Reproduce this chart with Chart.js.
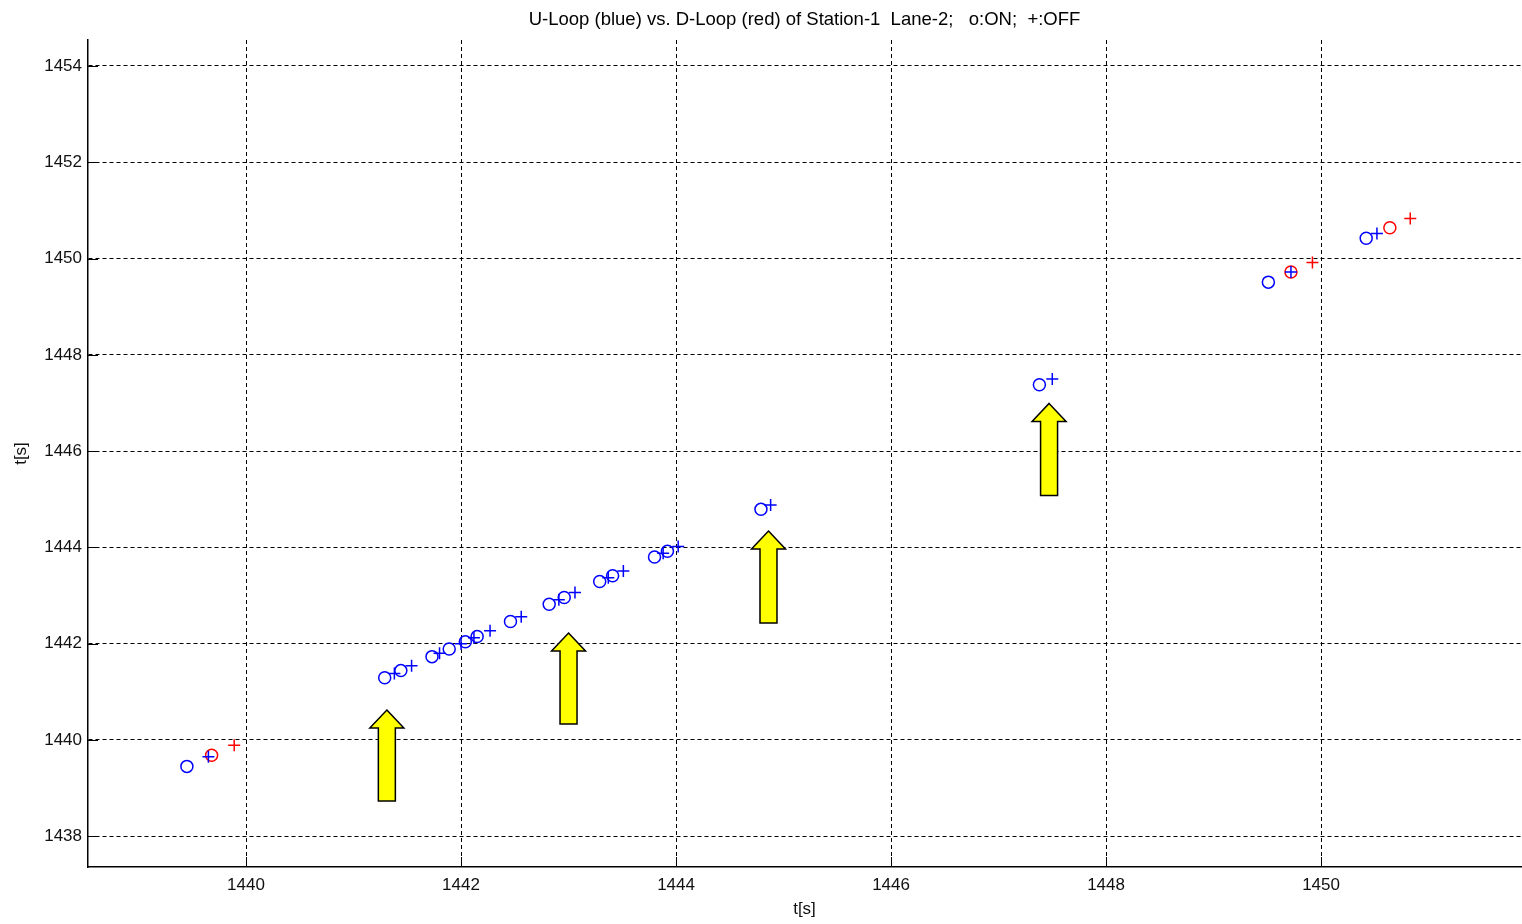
<!DOCTYPE html>
<html>
<head>
<meta charset="utf-8">
<title>U-Loop vs. D-Loop</title>
<script src="https://cdn.jsdelivr.net/npm/chart.js@4/dist/chart.umd.min.js"></script>
<style>
  html, body { margin: 0; padding: 0; background: #fff; }
  canvas { display: block; }
</style>
</head>
<body>
<canvas id="chart" width="1522" height="924"></canvas>
<script>
// Detector switching times [s]; every mark sits at (t, t)
const uLoopOn  = [1439.45, 1441.29, 1441.44, 1441.73, 1441.89, 1442.04, 1442.15, 1442.46, 1442.82,
                  1442.96, 1443.29, 1443.41, 1443.80, 1443.92, 1444.79, 1447.38, 1449.51, 1450.42];
const uLoopOff = [1439.65, 1441.38, 1441.54, 1441.80, 1442.00, 1442.12, 1442.27, 1442.56, 1442.91,
                  1443.06, 1443.37, 1443.51, 1443.88, 1444.02, 1444.88, 1447.50, 1449.72, 1450.52];
const dLoopOn  = [1439.68, 1449.72, 1450.64];
const dLoopOff = [1439.89, 1449.92, 1450.83];

const xTicks = [1440, 1442, 1444, 1446, 1448, 1450];
const yTicks = [1438, 1440, 1442, 1444, 1446, 1448, 1450, 1452, 1454];

// Highlight arrows: [t, tip t, tail t]
const arrowMarks = [
  [1441.31, 1440.62, 1438.73],
  [1443.00, 1442.22, 1440.33],
  [1444.86, 1444.34, 1442.43],
  [1447.47, 1446.99, 1445.08]
];

const FONT = "'Liberation Sans', Arial, Helvetica, sans-serif";
const toPoints = arr => arr.map(t => ({ x: t, y: t }));

// Small tick marks drawn inward from the left and bottom axes
const innerTicks = {
  id: 'innerTicks',
  afterDraw(chart) {
    const { ctx, chartArea: a, scales: { x, y } } = chart;
    ctx.save();
    ctx.strokeStyle = '#000';
    ctx.lineWidth = 1;
    ctx.setLineDash([]);
    ctx.beginPath();
    xTicks.forEach(v => {
      const px = Math.round(x.getPixelForValue(v)) + 0.5;
      ctx.moveTo(px, a.bottom);
      ctx.lineTo(px, a.bottom - 10);
    });
    yTicks.forEach(v => {
      const py = Math.round(y.getPixelForValue(v)) + 0.5;
      ctx.moveTo(a.left, py);
      ctx.lineTo(a.left + 10, py);
    });
    ctx.stroke();
    ctx.restore();
  }
};

// Yellow block arrows pointing up
const arrows = {
  id: 'arrows',
  afterDatasetsDraw(chart) {
    const { ctx, scales: { x, y } } = chart;
    const shaftHalf = 8.5, headHalf = 17, headH = 18;
    ctx.save();
    ctx.fillStyle = '#FFFF00';
    ctx.strokeStyle = '#000';
    ctx.lineWidth = 1.5;
    ctx.lineJoin = 'miter';
    arrowMarks.forEach(([t, tip, tail]) => {
      const cx = x.getPixelForValue(t);
      const ty = y.getPixelForValue(tip);
      const by = y.getPixelForValue(tail);
      const hy = ty + headH;
      ctx.beginPath();
      ctx.moveTo(cx, ty);
      ctx.lineTo(cx + headHalf, hy);
      ctx.lineTo(cx + shaftHalf, hy);
      ctx.lineTo(cx + shaftHalf, by);
      ctx.lineTo(cx - shaftHalf, by);
      ctx.lineTo(cx - shaftHalf, hy);
      ctx.lineTo(cx - headHalf, hy);
      ctx.closePath();
      ctx.fill();
      ctx.stroke();
    });
    ctx.restore();
  }
};

const markerBase = { showLine: false, pointRadius: 6, pointHoverRadius: 6, pointBorderWidth: 1.5, backgroundColor: 'rgba(0,0,0,0)' };
const plainNumber = v => String(v);

new Chart(document.getElementById('chart'), {
  type: 'scatter',
  data: {
    datasets: [
      { ...markerBase, label: 'U-Loop ON',  data: toPoints(uLoopOn),  pointStyle: 'circle', borderColor: '#0000FF' },
      { ...markerBase, label: 'U-Loop OFF', data: toPoints(uLoopOff), pointStyle: 'cross',  borderColor: '#0000FF' },
      { ...markerBase, label: 'D-Loop ON',  data: toPoints(dLoopOn),  pointStyle: 'circle', borderColor: '#FF0000' },
      { ...markerBase, label: 'D-Loop OFF', data: toPoints(dLoopOff), pointStyle: 'cross',  borderColor: '#FF0000' }
    ]
  },
  options: {
    responsive: false,
    animation: false,
    devicePixelRatio: 1,
    layout: { autoPadding: false, padding: { left: 0, right: 1, top: 0, bottom: 0 } },
    plugins: {
      legend: { display: false },
      tooltip: { enabled: false },
      title: {
        display: true,
        fullSize: false,
        text: 'U-Loop (blue) vs. D-Loop (red) of Station-1  Lane-2;   o:ON;  +:OFF',
        color: '#000',
        font: { family: FONT, size: 18.5, weight: 'normal', lineHeight: '20px' },
        padding: { top: 10, bottom: 10 }
      }
    },
    scales: {
      x: {
        type: 'linear',
        min: 1438.53,
        max: 1451.86,
        afterBuildTicks: s => { s.ticks = xTicks.map(v => ({ value: v })); },
        afterFit: s => { s.height = 57; s.paddingLeft = 0; s.paddingRight = 0; },
        grid: { color: '#000', lineWidth: 1, drawTicks: false },
        border: { display: true, color: '#000', width: 1.5, dash: [4, 3] },
        ticks: { color: '#111', padding: 8, maxRotation: 0, autoSkip: false, callback: plainNumber, font: { family: FONT, size: 17 } },
        title: { display: true, text: 't[s]', color: '#111', font: { family: FONT, size: 17, lineHeight: '20px' }, padding: { top: 0, bottom: 5 } }
      },
      y: {
        type: 'linear',
        min: 1437.36,
        max: 1454.54,
        afterBuildTicks: s => { s.ticks = yTicks.map(v => ({ value: v })); },
        afterFit: s => { s.width = 88; s.paddingTop = 0; s.paddingBottom = 0; },
        grid: { color: '#000', lineWidth: 1, drawTicks: false },
        border: { display: true, color: '#000', width: 1.5, dash: [4, 3] },
        ticks: { color: '#111', padding: 6, autoSkip: false, callback: plainNumber, font: { family: FONT, size: 17 } },
        title: { display: true, text: 't[s]', color: '#111', font: { family: FONT, size: 17, lineHeight: '20px' }, padding: { top: 11, bottom: 0 } }
      }
    }
  },
  plugins: [innerTicks, arrows]
});
</script>
</body>
</html>
